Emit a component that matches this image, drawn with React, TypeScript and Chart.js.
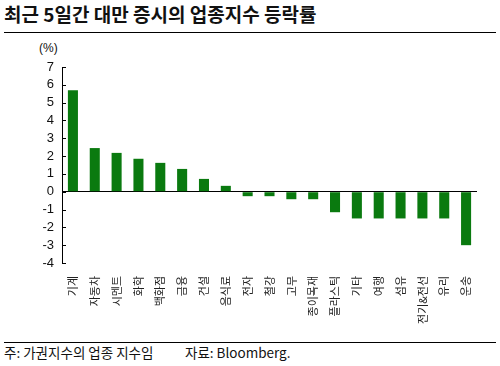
import React, { useEffect, useRef } from "react";
import { Chart, registerables } from "chart.js";

Chart.register(...registerables);

const titleText = "최근 5일간 대만 증시의 업종지수 등락률";
const unitLabel = "(%)";
const footNote = "주: 가권지수의 업종 지수임";
const sourceNote = "자료: Bloomberg.";

const categories = [
  "기계", "자동차", "시멘트", "화학", "백화점", "금융", "건설", "음식료", "전자", "철강",
  "고무", "종이목재", "플라스틱", "기타", "여행", "섬유", "전기&전선", "유리", "운송",
];
const changes = [
  5.7, 2.45, 2.18, 1.85, 1.62, 1.28, 0.72, 0.33, -0.25, -0.25,
  -0.42, -0.42, -1.15, -1.5, -1.5, -1.5, -1.5, -1.5, -3.0,
];
const yMin = -4;
const yMax = 7;
const yStep = 1;

const FONT = "'Liberation Sans', 'Noto Sans CJK KR', sans-serif";
const KFONT = "'Noto Sans CJK KR', 'Liberation Sans', sans-serif";

const innerTicks = {
  id: "innerTicks",
  afterDraw(chart: any) {
    const y = chart.scales.y;
    const ctx = chart.ctx;
    const left = chart.chartArea.left;
    ctx.save();
    ctx.strokeStyle = "#000";
    ctx.lineWidth = 1;
    y.ticks.forEach((t: any) => {
      const py = Math.round(y.getPixelForValue(t.value)) + 0.5;
      ctx.beginPath();
      ctx.moveTo(left, py);
      ctx.lineTo(left + 4, py);
      ctx.stroke();
    });
    ctx.restore();
  },
};

function BarChart() {
  const ref = useRef<HTMLCanvasElement | null>(null);
  useEffect(() => {
    if (!ref.current) return;
    const chart = new Chart(ref.current, {
      type: "bar",
      data: {
        labels: categories,
        datasets: [
          {
            data: changes,
            backgroundColor: "#0a7a0f",
            borderWidth: 0,
            categoryPercentage: 1,
            barPercentage: 0.46,
          },
        ],
      },
      options: {
        responsive: false,
        animation: false,
        layout: { padding: { top: 29, right: 23, left: 0, bottom: 0 } },
        plugins: { legend: { display: false }, tooltip: { enabled: false } },
        scales: {
          x: {
            grid: { display: false },
            border: { display: false },
            ticks: {
              autoSkip: false,
              minRotation: 90,
              maxRotation: 90,
              padding: 5,
              color: "#222",
              font: { family: KFONT, size: 11 },
            },
            afterFit: (s: any) => {
              s.height = 77;
            },
          },
          y: {
            min: yMin,
            max: yMax,
            ticks: {
              stepSize: yStep,
              autoSkip: false,
              padding: 8,
              color: "#111",
              font: { family: FONT, size: 13 },
            },
            grid: {
              drawTicks: false,
              lineWidth: 1,
              color: (c: any) => (c.tick && c.tick.value === 0 ? "#000" : "rgba(0,0,0,0)"),
            },
            border: { display: true, color: "#000", width: 1 },
            afterFit: (s: any) => {
              s.width = 62;
            },
          },
        },
      },
      plugins: [innerTicks],
    });
    return () => chart.destroy();
  }, []);
  return (
    <canvas
      ref={ref}
      width={500}
      height={302}
      style={{ position: "absolute", left: 0, top: 38, width: 500, height: 302 }}
    />
  );
}

export default function App() {
  return (
    <div
      style={{
        position: "fixed",
        left: 0,
        top: 0,
        width: 500,
        height: 366,
        background: "#fff",
        overflow: "hidden",
        fontFamily: KFONT,
        color: "#111",
      }}
    >
      <div
        style={{
          position: "absolute",
          left: 4,
          top: 2,
          fontSize: 19,
          fontWeight: 700,
          lineHeight: "24px",
          whiteSpace: "nowrap",
        }}
      >
        {titleText}
      </div>
      <div style={{ position: "absolute", left: 4, top: 32, width: 492, height: 1, background: "#000" }} />
      <div
        style={{
          position: "absolute",
          left: 39,
          top: 41,
          fontSize: 12,
          lineHeight: "14px",
          fontFamily: FONT,
        }}
      >
        {unitLabel}
      </div>
      <BarChart />
      <div style={{ position: "absolute", left: 4, top: 342, width: 492, height: 1, background: "#000" }} />
      <div
        style={{
          position: "absolute",
          left: 4,
          top: 344,
          fontSize: 13.5,
          lineHeight: "16px",
          whiteSpace: "nowrap",
        }}
      >
        {footNote}
      </div>
      <div
        style={{
          position: "absolute",
          left: 185,
          top: 344,
          fontSize: 13.5,
          lineHeight: "16px",
          whiteSpace: "nowrap",
        }}
      >
        {sourceNote}
      </div>
    </div>
  );
}
